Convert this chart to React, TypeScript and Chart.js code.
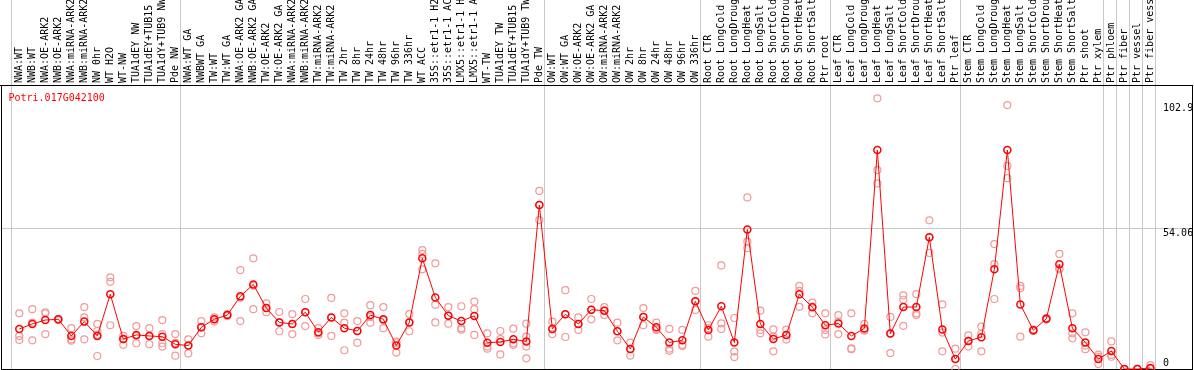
import React, { useEffect, useRef } from "react";
import { Chart, registerables } from "chart.js";

Chart.register(...registerables);

const geneId = "Potri.017G042100";

const groupSizes = [13, 28, 12, 10, 10, 11, 1, 1, 1, 1];

const categories = [
  "NWA:WT", "NWB:WT", "NWA:OE-ARK2", "NWB:OE-ARK2", "NWA:miRNA-ARK2", "NWB:miRNA-ARK2",
  "NW 0hr", "WT H2O", "WT-NW", "TUA1dEY NW", "TUA1dEY+TUB15 NW", "TUA1dY+TUB9 NW", "Pde NW",
  "NWA:WT GA", "NWBWT GA", "TW:WT", "TW:WT GA", "NWA:OE-ARK2 GA", "NWB:OE-ARK2 GA",
  "TW:OE-ARK2", "TW:OE-ARK2 GA", "NWA:miRNA-ARK2 GA", "NWB:miRNA-ARK2 GA", "TW:miRNA-ARK2",
  "TW:miRNA-ARK2 GA", "TW 2hr", "TW 8hr", "TW 24hr", "TW 48hr", "TW 96hr", "TW 336hr", "WT ACC",
  "35S::etr1-1 H2O", "35S::etr1-1 ACC", "LMX5::etr1-1 H2O", "LMX5::etr1-1 ACC", "WT-TW",
  "TUA1dEY TW", "TUA1dEY+TUB15 TW", "TUA1dY+TUB9 TW", "Pde TW",
  "OW:WT", "OW:WT GA", "OW:OE-ARK2", "OW:OE-ARK2 GA", "OW:miRNA-ARK2", "OW:miRNA-ARK2 GA",
  "OW 2hr", "OW 8hr", "OW 24hr", "OW 48hr", "OW 96hr", "OW 336hr",
  "Root CTR", "Root LongCold", "Root LongDrought", "Root LongHeat", "Root LongSalt",
  "Root ShortCold", "Root ShortDrought", "Root ShortHeat", "Root ShortSalt", "Ptr root",
  "Leaf CTR", "Leaf LongCold", "Leaf LongDrought", "Leaf LongHeat", "Leaf LongSalt",
  "Leaf ShortCold", "Leaf ShortDrought", "Leaf ShortHeat", "Leaf ShortSalt", "Ptr leaf",
  "Stem CTR", "Stem LongCold", "Stem LongDrought", "Stem LongHeat", "Stem LongSalt",
  "Stem ShortCold", "Stem ShortDrought", "Stem ShortHeat", "Stem ShortSalt", "Ptr shoot", "Ptr xylem",
  "Ptr phloem", "Ptr fiber", "Ptr vessel", "Ptr fiber vessel",
];

const means = [
  15.4, 17.3, 18.8, 19.1, 12.7, 18.2, 12.7, 28.7, 11.5, 13.1, 12.7, 12.4, 9.5,
  9.0, 16.0, 19.1, 20.7, 27.9, 32.5, 23.4, 17.9, 17.3, 21.8, 14.1, 19.8, 15.7, 14.6,
  20.7, 19.1, 9.0, 17.9, 42.5, 27.5, 20.5, 18.4, 20.4, 10.1, 10.4, 11.4, 10.6, 63.0,
  15.4, 21.0, 17.3, 22.8, 22.4, 14.5, 7.7, 20.0, 16.0, 10.2, 11.0, 26.0,
  15.0, 24.1, 10.2, 53.6, 17.3, 11.5, 13.1, 28.7, 23.7, 16.8,
  17.5, 12.7, 15.6, 84.1, 13.6, 23.8, 23.8, 50.6, 15.2, 3.8,
  10.8, 12.2, 38.3, 84.1, 24.8, 14.9, 19.3, 40.2, 15.7, 10.2, 3.8,
  6.9, 0, 0, 0.4,
];

const replicates = [
  [21.4, 12.7, 11.1], [23.0, 17.8, 11.0], [21.8, 21.4, 13.4], [19.1, 19.1, 18.8],
  [15.7, 11.4, 10.9], [23.8, 19.8, 11.4], [17.3, 14.6, 13.2, 5.0], [35.2, 33.5, 16.8],
  [12.7, 11.4, 9.3], [16.5, 12.7, 9.9], [15.7, 12.7, 9.5], [18.8, 13.4, 9.9, 8.6],
  [13.4, 10.0, 5.1],
  [11.4, 9.0, 6.0], [18.4, 16.0, 13.7], [19.8, 19.1, 18.2], [21.1, 20.7, 20.4],
  [38.0, 27.4, 18.4], [42.5, 32.0, 23.0], [25.2, 23.4, 21.8], [21.9, 17.9, 14.5],
  [21.1, 17.3, 13.4], [26.9, 21.8, 16.5], [15.7, 13.7, 13.1], [27.3, 19.8, 12.7],
  [21.4, 17.8, 7.2], [18.4, 14.6, 10.1], [24.5, 20.0, 17.8], [23.8, 18.8, 15.7],
  [10.5, 9.9, 6.3], [21.1, 17.9, 14.5], [45.7, 44.2, 38.3], [40.6, 24.7, 17.9],
  [23.8, 20.5, 17.4], [24.1, 15.7, 15.1], [25.9, 23.0, 13.1], [13.7, 8.6, 7.8],
  [14.6, 11.5, 5.6], [15.5, 9.9, 9.3], [17.4, 12.4, 8.6, 4.1], [68.4, 63.0, 57.2],
  [18.2, 15.4, 13.4], [30.3, 21.0, 12.3], [19.8, 17.3, 15.0], [26.9, 22.8, 19.1],
  [23.8, 22.4, 20.7], [17.8, 14.5, 11.0], [10.1, 7.7, 5.1], [23.4, 20.0, 16.8],
  [17.8, 15.4, 15.0], [15.4, 7.8, 7.0], [15.0, 9.3, 8.8], [30.0, 26.0, 22.7],
  [16.8, 15.7, 12.4], [39.8, 17.5, 15.4], [19.6, 6.7, 4.6], [65.9, 48.9, 46.4],
  [22.4, 15.0, 13.7], [15.2, 12.4, 6.8], [15.1, 13.1, 11.3], [31.9, 30.0, 23.9],
  [25.5, 24.0, 21.4], [21.4, 15.0, 13.3],
  [20.7, 18.2, 13.4], [21.4, 7.9, 7.6], [17.3, 15.0, 14.7], [104.0, 76.4, 71.3],
  [20.0, 13.6, 6.1], [28.3, 26.6, 16.6], [28.8, 21.4, 20.7], [57.1, 50.6, 44.6],
  [24.8, 14.0, 6.8], [7.8, 3.8, 0],
  [12.9, 10.8, 8.6], [16.3, 13.5, 6.8], [48.0, 40.3, 26.9], [101.4, 78.0, 73.3],
  [31.9, 31.0, 12.4], [15.2, 14.9, 14.6], [19.6, 19.3, 19.0], [44.2, 38.7, 38.3],
  [21.4, 13.7, 11.8], [14.1, 9.0, 7.6], [5.5, 4.7, 1.9],
  [10.6, 5.4, 4.7], [0, 0, 0], [0, 0, 0], [1.5, 0, 0],
];

const yTickLabels = ["102.9", "54.06", "0"];
const yTickValues = [102.9, 54.06, 0];
const yGridValues = [54.06];
const yMax = 109.1;
const xMin = -1.408;
const xMax = 90.28;

const FONT = "10px 'DejaVu Sans Mono', monospace";

export default function App() {
  const ref = useRef<HTMLCanvasElement>(null);

  useEffect(() => {
    const canvas = ref.current;
    if (!canvas) return;

    const boundaries: number[] = [-0.6];
    let acc = 0;
    for (const g of groupSizes) {
      acc += g;
      boundaries.push(acc - 0.6);
    }

    const overlay = {
      id: "overlay",
      beforeDatasetsDraw(chart: any) {
        const { ctx, chartArea: a, scales } = chart;
        const xs = scales.x;
        const ys = scales.y;
        ctx.save();
        // frame
        ctx.strokeStyle = "#000";
        ctx.lineWidth = 1;
        ctx.strokeRect(a.left + 0.5, a.top + 0.5, a.right - a.left - 1, a.bottom - a.top);
        ctx.beginPath();
        ctx.moveTo(0, a.top + 0.5);
        ctx.lineTo(a.left, a.top + 0.5);
        ctx.stroke();

        ctx.font = FONT;
        // category labels (rotated, in header)
        ctx.fillStyle = "#000";
        categories.forEach((label, i) => {
          const x = xs.getPixelForValue(i);
          ctx.save();
          ctx.translate(x + 0.5, a.top - 2);
          ctx.rotate(-Math.PI / 2);
          ctx.textAlign = "left";
          ctx.textBaseline = "middle";
          ctx.fillText(label, 0, 0);
          ctx.restore();
        });

        // gene id
        ctx.fillStyle = "#ff0000";
        ctx.textAlign = "left";
        ctx.textBaseline = "alphabetic";
        ctx.fillText(geneId, 8.5, a.top + 16);

        // value labels on the right
        ctx.fillStyle = "#000";
        const lx = xs.getPixelForValue(categories.length - 0.6) + 7.5;
        yTickValues.forEach((v, k) => {
          const py = ys.getPixelForValue(v);
          let by = py + 8;
          if (v === 0) by = a.bottom - 3;
          if (k === 0) by = py + 9.5;
          ctx.fillText(yTickLabels[k], lx, by);
        });
        ctx.restore();
      },
    };

    const chart = new Chart(canvas, {
      type: "line",
      data: {
        datasets: [
          {
            label: "mean",
            data: means.map((v, i) => ({ x: i, y: v })),
            borderColor: "#ff0000",
            borderWidth: 1,
            pointRadius: 3.5,
            pointBorderColor: "#ff0000",
            pointBackgroundColor: "rgba(0,0,0,0)",
            pointBorderWidth: 1.5,
            tension: 0,
            order: 0,
            clip: false,
          } as any,
          {
            label: "replicates",
            data: replicates.flatMap((r, i) => r.map((v) => ({ x: i, y: v }))),
            showLine: false,
            borderColor: "#f09a9a",
            pointRadius: 3.5,
            pointBorderColor: "#f09a9a",
            pointBackgroundColor: "rgba(0,0,0,0)",
            pointBorderWidth: 1.2,
            order: 1,
            clip: false,
          } as any,
        ],
      },
      options: {
        animation: false,
        responsive: false,
        devicePixelRatio: 1,
        events: [],
        layout: { autoPadding: false, padding: { left: 1, right: 1, top: 0, bottom: 1 } },
        plugins: { legend: { display: false }, tooltip: { enabled: false } },
        scales: {
          x: {
            type: "linear",
            position: "top",
            min: xMin,
            max: xMax,
            bounds: "data",
            grid: {
              color: "#c8c8c8",
              lineWidth: 1,
              drawTicks: true,
              tickLength: 85,
              tickColor: "#c8c8c8",
            },
            border: { display: false },
            ticks: { display: false },
            afterBuildTicks: (s: any) => {
              s.ticks = boundaries.map((v) => ({ value: v }));
            },
          },
          y: {
            type: "linear",
            position: "left",
            min: 0,
            max: yMax,
            grid: { color: "#c8c8c8", lineWidth: 1, drawTicks: false },
            border: { display: false },
            ticks: { display: false },
            afterBuildTicks: (s: any) => {
              s.ticks = yGridValues.map((v) => ({ value: v }));
            },
          },
        },
      } as any,
      plugins: [overlay],
    });

    return () => chart.destroy();
  }, []);

  return (
    <div style={{ position: "fixed", left: 0, top: 0, width: 1194, height: 370, background: "#fff" }}>
      <canvas ref={ref} width={1194} height={370} style={{ display: "block", width: 1194, height: 370 }} />
    </div>
  );
}
